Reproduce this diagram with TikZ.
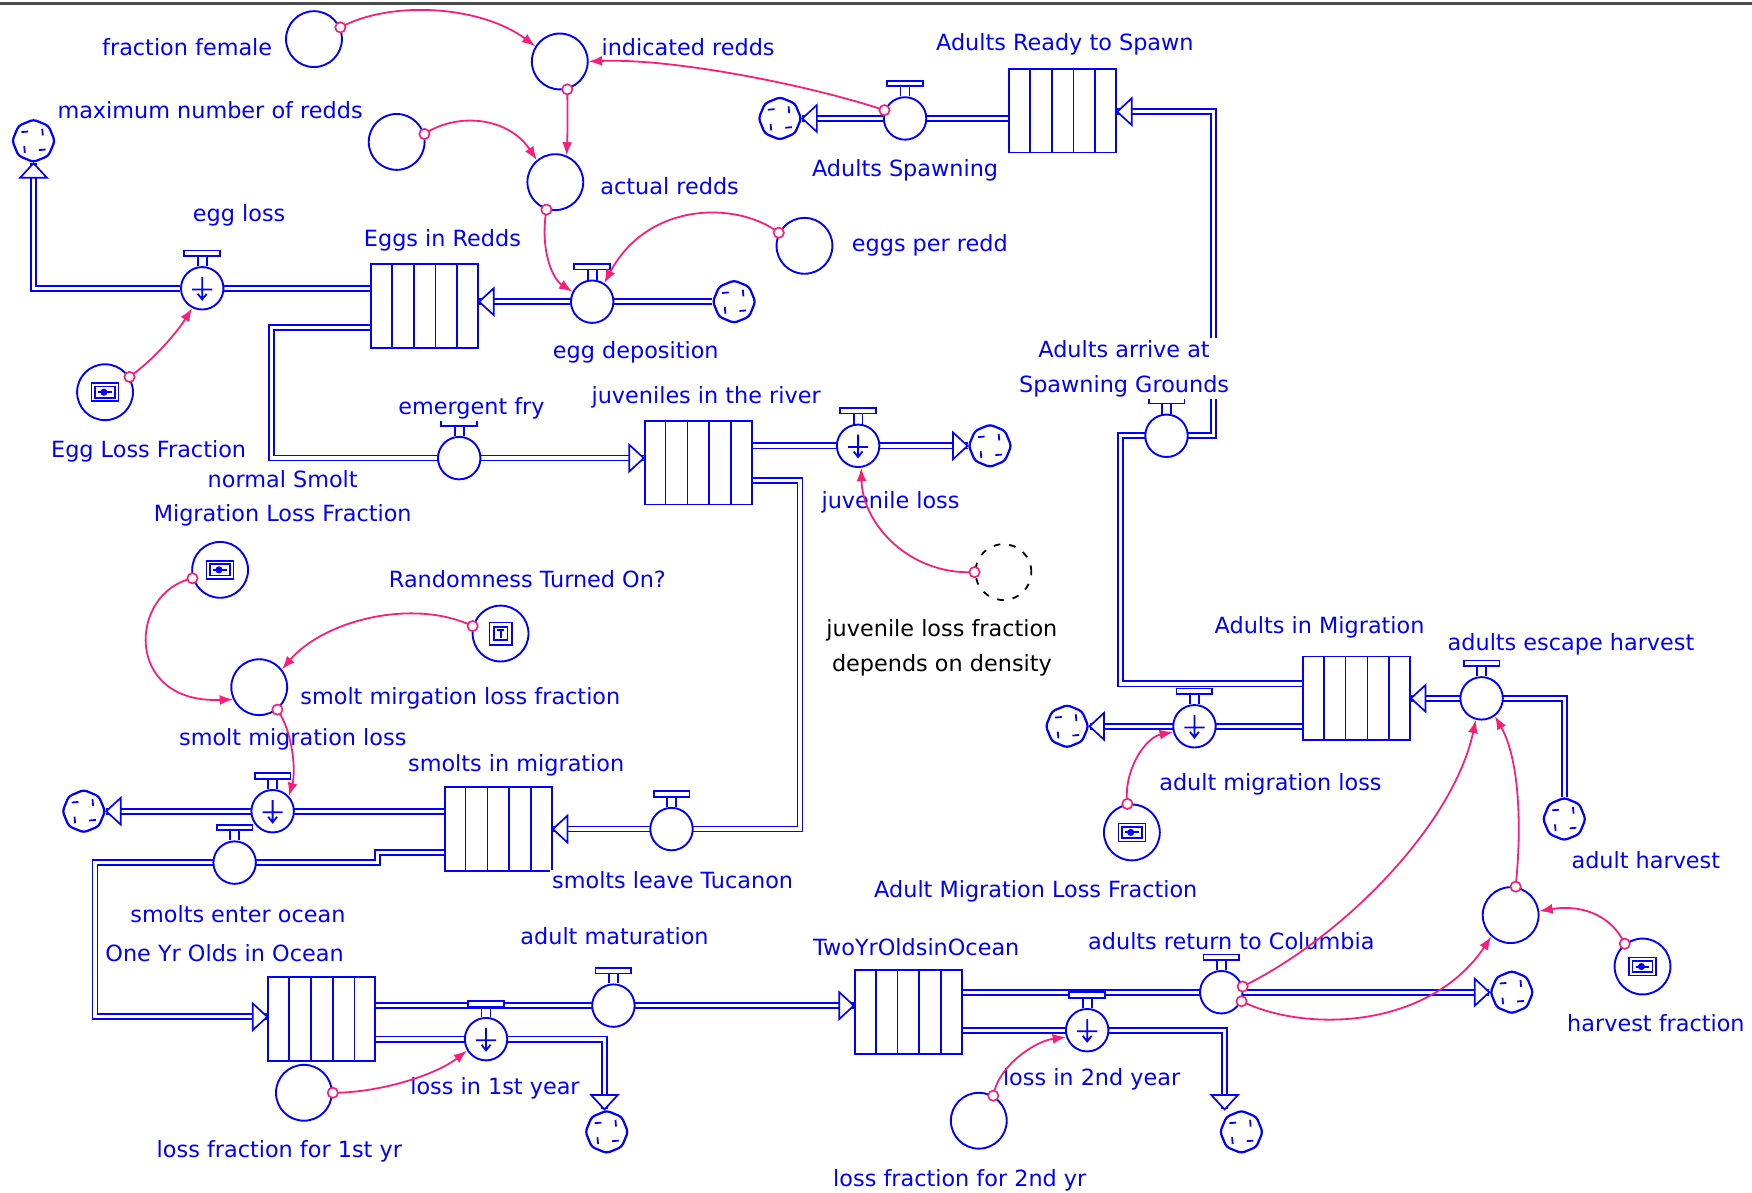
\documentclass[tikz,border=0pt]{standalone}
\usepackage{fontspec}
\setmainfont{DejaVu Sans}
\usetikzlibrary{arrows.meta,shapes.geometric,calc,backgrounds}
\definecolor{sb}{RGB}{0,0,255}
\definecolor{lk}{RGB}{250,30,120}
\tikzset{
 pipe/.style={draw=sb,line width=0.75pt,double=white,double distance=1.5pt},
 stockbox/.style={draw=sb,fill=white,line width=0.85pt,minimum width=48pt,minimum height=37.5pt,inner sep=0pt},
 valvec/.style={circle,draw=sb,fill=white,line width=0.85pt,minimum size=19pt,inner sep=0pt},
 auxc/.style={circle,draw=sb,fill=white,line width=0.85pt,minimum size=25pt,inner sep=0pt},
 ghostc/.style={circle,draw=black,dash pattern=on 3pt off 4pt,line width=0.8pt,minimum size=25pt,inner sep=0pt},
 cloudn/.style={regular polygon,regular polygon sides=8,shape border rotate=22.5,draw=sb,fill=white,
   line width=1pt,minimum size=19pt,inner sep=0pt,rounded corners=1.5pt,
   path picture={\foreach \a in {30,120,210,300}{\draw[sb,line width=0.8pt,sharp corners]
     ([shift={(\a:4.8pt)}]path picture bounding box.center) -- ++(\a+65:3pt);}}},
 lbl/.style={font=\fontsize{10}{15.5}\selectfont,text=sb,fill=white,inner sep=1pt,align=center},
 lblk/.style={lbl,text=black},
 lnk/.style={draw=lk,line width=0.8pt,-{Latex[length=6pt,width=4.5pt]}},
 parrow/.style={draw=sb,fill=white,line width=0.75pt},
 parR/.pic={\draw[parrow] (0,0) -- (-13,-12) -- (-13,12) -- cycle;},
 parL/.pic={\draw[parrow] (0,0) -- (13,-12) -- (13,12) -- cycle;},
 parU/.pic={\draw[parrow] (0,0) -- (-12,13) -- (12,13) -- cycle;},
 parD/.pic={\draw[parrow] (0,0) -- (-12,-13) -- (12,-13) -- cycle;},
}
\newcommand\vhandle[1]{%
 \draw[sb,line width=0.8pt,fill=white] ([shift={(-16,-14)}]#1.north) rectangle ([shift={(16,-9)}]#1.north);
 \draw[sb,line width=0.8pt] ([shift={(-4,-9)}]#1.north) -- ([shift={(-4,0)}]#1.north)
   ([shift={(4,-9)}]#1.north) -- ([shift={(4,0)}]#1.north);}
\newcommand\losssym[1]{%
 \draw[sb,line width=0.8pt] ([shift={(-9,1)}]#1.center) -- ([shift={(9,1)}]#1.center)
   ([shift={(0,-10)}]#1.center) -- ([shift={(0,10)}]#1.center)
   ([shift={(-4,5)}]#1.center) -- ([shift={(0,10)}]#1.center) -- ([shift={(4,5)}]#1.center);}
\newcommand\stocklines[1]{%
 \foreach \f in {0.2,0.4,0.6,0.8}{\draw[sb,line width=0.8pt] ($(#1.north west)!\f!(#1.north east)$) -- ($(#1.south west)!\f!(#1.south east)$);}}
\newcommand\slidericon[1]{%
 \draw[sb,line width=0.7pt] ([shift={(-12,-8)}]#1.center) rectangle ([shift={(12,8)}]#1.center);
 \draw[sb,line width=0.7pt] ([shift={(-9,-5)}]#1.center) rectangle ([shift={(9,5)}]#1.center);
 \draw[sb,line width=0.9pt] ([shift={(-6,0)}]#1.center) -- ([shift={(6,0)}]#1.center);
 \fill[sb] ([shift={(-1,0)}]#1.center) circle (1.6pt);}
\newcommand\ticon[1]{%
 \draw[sb,line width=0.7pt] ([shift={(-10,-10)}]#1.center) rectangle ([shift={(10,10)}]#1.center);
 \draw[sb,line width=0.7pt] ([shift={(-6,-6)}]#1.center) rectangle ([shift={(6,6)}]#1.center);
 \draw[sb,line width=0.9pt] ([shift={(-3,-3)}]#1.center) -- ([shift={(3,-3)}]#1.center)
   ([shift={(0,-3)}]#1.center) -- ([shift={(0,4)}]#1.center);}
\newcommand\lnkc[4]{%
 \draw[lnk] (#1) .. controls (#2) and (#3) .. (#4);
 \draw[lk,line width=0.75pt,fill=white] (#1) circle (2.3pt);}
\begin{document}
\begin{tikzpicture}[x=0.5pt,y=-0.5pt]
\useasboundingbox (0,0) rectangle (1568,1067);
\draw[line width=1.6pt,black!70] (0,3) -- (1568,3);

% stocks
\node[stockbox] (eggs) at (380,274) {};
\node[stockbox] (juv) at (625,414) {};
\node[stockbox] (smig) at (446,742) {};
\node[stockbox] (oneyr) at (288,912) {};
\node[stockbox] (twoyr) at (813,906) {};
\node[stockbox] (ready) at (951,99) {};
\node[stockbox] (amig) at (1214,625) {};
\foreach \s in {eggs,juv,smig,oneyr,twoyr,ready,amig}{\stocklines{\s}}

% valves
\node[valvec] (egglossV) at (181,258) {};
\node[valvec] (eggdepV) at (530,270) {};
\node[valvec] (spawnV) at (810,106) {};
\node[valvec] (arriveV) at (1044,390) {};
\node[valvec] (fryV) at (411,410) {};
\node[valvec] (juvlossV) at (768,399) {};
\node[valvec] (leaveV) at (601,742) {};
\node[valvec] (smlossV) at (244,726) {};
\node[valvec] (enterV) at (210,772) {};
\node[valvec] (matV) at (549,900) {};
\node[valvec] (loss1V) at (435,930) {};
\node[valvec] (returnV) at (1093,888) {};
\node[valvec] (loss2V) at (973,922) {};
\node[valvec] (amlossV) at (1069,650) {};
\node[valvec] (escapeV) at (1326,625) {};
\foreach \v in {egglossV,eggdepV,spawnV,arriveV,fryV,juvlossV,leaveV,smlossV,enterV,matV,loss1V,returnV,loss2V,amlossV,escapeV}{\vhandle{\v}}
\foreach \v in {egglossV,juvlossV,smlossV,loss1V,loss2V,amlossV}{\losssym{\v}}

% clouds
\node[cloudn] (c1) at (30,126) {};
\node[cloudn] (c2) at (657,270) {};
\node[cloudn] (c3) at (698,106) {};
\node[cloudn] (c4) at (886,399) {};
\node[cloudn] (c5) at (75,726) {};
\node[cloudn] (c6) at (543,1013) {};
\node[cloudn] (c7) at (1111,1013) {};
\node[cloudn] (c8) at (1353,888) {};
\node[cloudn] (c9) at (955,650) {};
\node[cloudn] (c10) at (1400,733) {};

% auxiliaries
\node[auxc] (ff) at (281,35) {};
\node[auxc] (ir) at (501,55) {};
\node[auxc] (maxr) at (355,127) {};
\node[auxc] (ar) at (497,163) {};
\node[auxc] (epr) at (720,220) {};
\node[auxc] (elf) at (94,351) {};
\node[auxc] (nsm) at (197,510) {};
\node[auxc] (rto) at (448,567) {};
\node[auxc] (smlf) at (232,615) {};
\node[ghostc] (jlf) at (898,512) {};
\node[auxc] (lf1) at (272,978) {};
\node[auxc] (lf2) at (876,1003) {};
\node[auxc] (amlf) at (1013,745) {};
\node[auxc] (ah) at (1352,819) {};
\node[auxc] (hf) at (1470,865) {};
\foreach \a in {elf,nsm,amlf,hf}{\slidericon{\a}}
\ticon{rto}

% pipe corner points
\coordinate (a1) at (1003,612);
\coordinate (a3) at (1086,390);
\coordinate (a4) at (1086,100);
\coordinate (f1) at (243,293);
\coordinate (j1) at (716,430);
\coordinate (s1) at (338,763);
\coordinate (s2) at (85,910);
\coordinate (o1) at (541,930);
\coordinate (t1) at (1096,922);

\begin{pgfonlayer}{background}
\fill[white] (0,0) rectangle (1568,1067);
\draw[pipe] (eggs.west |- egglossV) -- (egglossV) -- (c1 |- egglossV) -- (c1.south);
\draw[pipe] (c2) -- (eggs.east |- c2);
\draw[pipe] (ready.west |- spawnV) -- (c3.east);
\draw[pipe] (amig.west |- a1) -- (a1) -- (a1 |- arriveV) -- (a3) -- (a4) -- (ready.east |- a4);
\draw[pipe] (eggs.west |- f1) -- (f1) -- (f1 |- fryV) -- (juv.west |- fryV);
\draw[pipe] (juv.east |- juvlossV) -- (c4.west);
\draw[pipe] (juv.east |- j1) -- (j1) -- (j1 |- leaveV) -- (smig.east |- leaveV);
\draw[pipe] (smig.west |- smlossV) -- (c5.east);
\draw[pipe] (smig.west |- s1) -- (s1) -- (s1 |- enterV) -- (s2 |- enterV) -- (s2) -- (oneyr.west |- s2);
\draw[pipe] (oneyr.east |- matV) -- (twoyr.west |- matV);
\draw[pipe] (oneyr.east |- loss1V) -- (o1) -- (o1 |- c6.north);
\draw[pipe] (twoyr.east |- returnV) -- (c8.west);
\draw[pipe] (twoyr.east |- loss2V) -- (t1) -- (t1 |- c7.north);
\draw[pipe] (amig.west |- amlossV) -- (c9.east);
\draw[pipe] (c10.north) -- (c10 |- escapeV) -- (amig.east |- escapeV);
\end{pgfonlayer}

% pipe arrowheads
\pic at (c1.south) {parU};
\pic at (eggs.east |- c2) {parL};
\pic at (c3.east) {parL};
\pic at (ready.east |- a4) {parL};
\pic at (juv.west |- fryV) {parR};
\pic at (c4.west) {parR};
\pic at (smig.east |- leaveV) {parL};
\pic at (c5.east) {parL};
\pic at (oneyr.west |- s2) {parR};
\pic at (twoyr.west |- matV) {parR};
\pic at (o1 |- c6.north) {parD};
\pic at (c8.west) {parR};
\pic at (t1 |- c7.north) {parD};
\pic at (c9.east) {parL};
\pic at (amig.east |- escapeV) {parL};

% labels
\node[lbl,anchor=east] (l1) at (246,42) {fraction female};
\node[lbl,anchor=west] (l2) at (536,42) {indicated redds};
\node[lbl] (l3) at (953,40) {Adults Ready to Spawn};
\node[lbl] (l4) at (188,99) {maximum number of redds};
\node[lbl] (l5) at (810,152) {Adults Spawning};
\node[lbl,anchor=west] (l6) at (535,167) {actual redds};
\node[lbl] (l7) at (214,193) {egg loss};
\node[lbl] (l8) at (396,215) {Eggs in Redds};
\node[lbl,anchor=west] (l9) at (760,220) {eggs per redd};
\node[lbl] (l10) at (569,315) {egg deposition};
\node[lbl] (l11) at (1006,330) {Adults arrive at\\Spawning Grounds};
\node[lbl] (l12) at (422,365) {emergent fry};
\node[lbl] (l13) at (632,356) {juveniles in the river};
\node[lbl] (l14) at (133,404) {Egg Loss Fraction};
\node[lbl] (l15) at (253,446) {normal Smolt\\Migration Loss Fraction};
\node[lbl] (l16) at (797,450) {juvenile loss};
\node[lbl] (l17) at (472,518) {Randomness Turned On?};
\node[lblk] (l18) at (843,580) {juvenile loss fraction\\depends on density};
\node[lbl] (l19) at (1181,561) {Adults in Migration};
\node[lbl] (l20) at (1406,577) {adults escape harvest};
\node[lbl] (l21) at (412,625) {smolt mirgation loss fraction};
\node[lbl] (l22) at (262,662) {smolt migration loss};
\node[lbl] (l23) at (462,685) {smolts in migration};
\node[lbl] (l24) at (1137,702) {adult migration loss};
\node[lbl] (l25) at (1473,770) {adult harvest};
\node[lbl] (l26) at (602,788) {smolts leave Tucanon};
\node[lbl] (l27) at (927,798) {Adult Migration Loss Fraction};
\node[lbl] (l28) at (213,818) {smolts enter ocean};
\node[lbl] (l29) at (550,838) {adult maturation};
\node[lbl] (l30) at (1102,842) {adults return to Columbia};
\node[lbl] (l31) at (820,848) {TwoYrOldsinOcean};
\node[lbl] (l32) at (201,853) {One Yr Olds in Ocean};
\node[lbl] (l33) at (1482,916) {harvest fraction};
\node[lbl] (l34) at (977,966) {loss in 2nd year};
\node[lbl] (l35) at (443,974) {loss in 1st year};
\node[lbl] (l36) at (250,1030) {loss fraction for 1st yr};
\node[lbl] (l37) at (859,1056) {loss fraction for 2nd yr};

% links
\lnkc{ff.24}{350,0}{430,5}{ir.148}
\lnkc{spawnV.158}{720,75}{600,52}{ir.east}
\lnkc{ir.-75}{508,105}{508,118}{ar.67}
\lnkc{maxr.16}{410,100}{455,105}{ar.130}
\lnkc{ar.-108}{483,225}{495,250}{eggdepV.153}
\lnkc{epr.153}{660,180}{580,180}{eggdepV.57}
\lnkc{elf.32}{140,320}{160,295}{egglossV.-117}
\lnkc{jlf.180}{815,515}{772,470}{juvlossV.-82}
\lnkc{nsm.-163}{115,530}{110,630}{smlf.-155}
\lnkc{rto.165}{370,535}{290,555}{smlf.38}
\lnkc{smlf.-51}{262,655}{265,690}{smlossV.43}
\lnkc{lf1.0}{340,978}{390,962}{loss1V.-149}
\lnkc{lf2.60}{893,955}{925,932}{loss2V.-162}
\lnkc{amlf.99}{1005,690}{1025,660}{amlossV.-165}
\lnkc{returnV.15}{1200,840}{1300,740}{escapeV.-105}
\lnkc{returnV.-24}{1170,925}{1280,920}{ah.-132}
\lnkc{ah.80}{1362,740}{1360,680}{escapeV.-53}
\lnkc{hf.128}{1440,815}{1410,810}{ah.8}
\end{tikzpicture}
\end{document}
